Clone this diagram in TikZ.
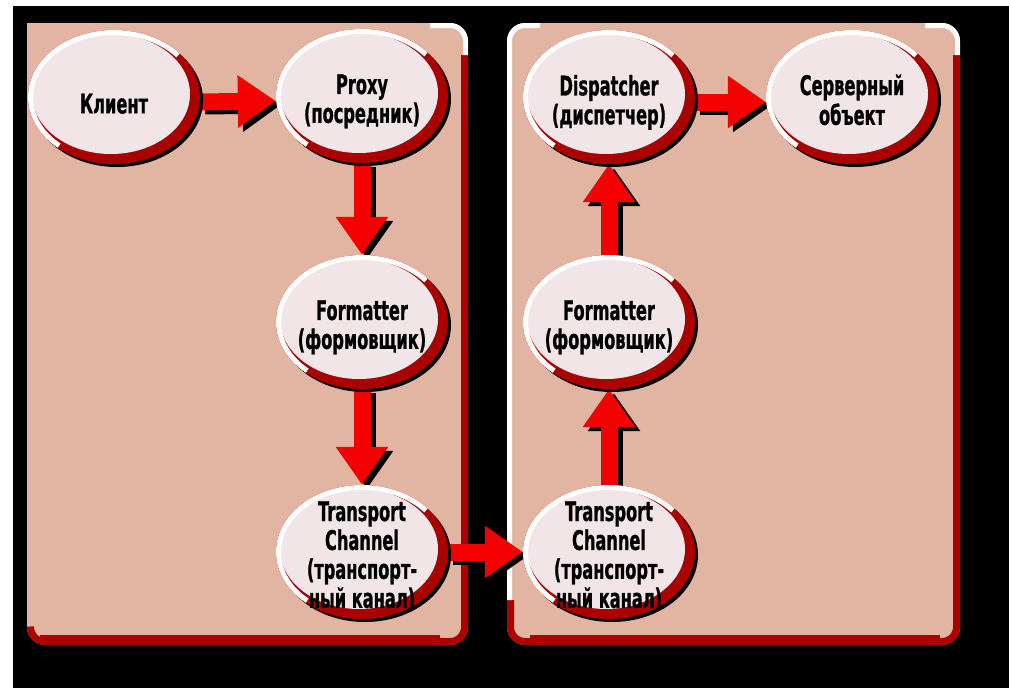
\documentclass[tikz,border=0pt]{standalone}
\usepackage{fontspec}
\newfontfamily\lblfont{DejaVu Sans}[FakeStretch=0.6,FakeBold=0.8]
\usetikzlibrary{arrows.meta,shapes.geometric}

\definecolor{panelbg}{RGB}{226,181,162}
\definecolor{edgered}{RGB}{175,0,0}
\definecolor{ringred}{RGB}{170,0,0}
\definecolor{arrowred}{RGB}{245,0,0}
\definecolor{bubblebg}{RGB}{241,229,231}

\pgfdeclarelayer{panels}
\pgfdeclarelayer{links}
\pgfsetlayers{panels,links,main}

\tikzset{
  bubble/.style={ellipse, minimum width=172pt, minimum height=134pt, inner sep=0pt,
    font=\lblfont\bfseries\fontsize{27pt}{28pt}\selectfont},
  flow/.style={draw=arrowred, line width=17pt, -{Triangle[length=38pt,width=50pt]}},
  flowshadow/.style={draw=black, line width=17pt, -{Triangle[length=38pt,width=50pt]},
    transform canvas={shift={(5pt,-4pt)}}},
}

% bevelled bubble: shadow, dark red rim, light face, white highlight, then the named node
\newcommand\bubblenode[4]{%
  \fill[black] (#2+3,#3-3) ellipse [x radius=86pt, y radius=67pt];
  \fill[ringred] (#2,#3) ellipse [x radius=86pt, y radius=67pt];
  \fill[bubblebg] (#2-3,#3+3) ellipse [x radius=79pt, y radius=60pt];
  \draw[white, line width=5pt] (#2,#3) ++(40:83.5pt and 64.5pt)
    arc [start angle=40, end angle=229, x radius=83.5pt, y radius=64.5pt];
  \node[bubble] (#1) at (#2,#3)
    {\makebox[0pt]{\smash{\raisebox{-13pt}{\begin{tabular}{@{}c@{}}#4\end{tabular}}}}};
}

\begin{document}
\begin{tikzpicture}[x=1pt,y=1pt]
\useasboundingbox (0,0) rectangle (1009,-688);

\begin{pgfonlayer}{panels}
  \fill[white] (0,0) rectangle (1009,-688);
  \fill[black] (13,-6) rectangle (1009,-688);

  % client side panel
  \fill[panelbg] (27,-23) rectangle (60,-60);
  \begin{scope}
    \clip[rounded corners=18pt] (27,-23) rectangle (468,-645);
    \fill[panelbg] (27,-23) rectangle (468,-645);
    \draw[edgered, line width=14pt, rounded corners=18pt]
      (468,-55) -- (468,-645) -- (27,-645) -- (27,-630);
    \draw[edgered, line width=20pt] (40,-645) -- (440,-645);
    \draw[white, line width=10pt, rounded corners=18pt]
      (430,-23) -- (468,-23) -- (468,-55);
  \end{scope}

  % server side panel
  \begin{scope}
    \clip[rounded corners=18pt] (507,-23) rectangle (960,-645);
    \fill[panelbg] (507,-23) rectangle (960,-645);
    \draw[edgered, line width=14pt, rounded corners=18pt]
      (960,-55) -- (960,-645) -- (507,-645) -- (507,-600);
    \draw[edgered, line width=20pt] (530,-645) -- (940,-645);
    \draw[white, line width=10pt, rounded corners=18pt]
      (507,-600) -- (507,-23) -- (540,-23);
    \draw[white, line width=10pt, rounded corners=18pt]
      (925,-23) -- (960,-23) -- (960,-55);
  \end{scope}
\end{pgfonlayer}

% bubbles
\bubblenode{kl}{114}{-97}{\raisebox{-4pt}{Клиент}}
\bubblenode{px}{362}{-96}{Proxy\\(посредник)}
\bubblenode{fl}{362}{-322}{Formatter\\(формовщик)}
\bubblenode{tl}{362}{-552}{Transport\\Channel\\(транспорт-\\ный канал)}
\bubblenode{dp}{609}{-97}{Dispatcher\\(диспетчер)}
\bubblenode{so}{852}{-97}{Серверный\\объект}
\bubblenode{fr}{609}{-322}{Formatter\\(формовщик)}
\bubblenode{tr}{609}{-552}{Transport\\Channel\\(транспорт-\\ный канал)}

% call flow
\begin{pgfonlayer}{links}
  \draw[flowshadow] ([yshift=-5pt]kl.east) -- ([yshift=-5pt]px.west);
  \draw[flow]       ([yshift=-5pt]kl.east) -- ([yshift=-5pt]px.west);
  \draw[flowshadow] (px.south) -- (fl.north);
  \draw[flow]       (px.south) -- (fl.north);
  \draw[flowshadow] (fl.south) -- (tl.north);
  \draw[flow]       (fl.south) -- (tl.north);
  \draw[flowshadow] (tl.east) -- (tr.west);
  \draw[flow]       (tl.east) -- (tr.west);
  \draw[flowshadow] (tr.north) -- (fr.south);
  \draw[flow]       (tr.north) -- (fr.south);
  \draw[flowshadow] (fr.north) -- (dp.south);
  \draw[flow]       (fr.north) -- (dp.south);
  \draw[flowshadow] ([yshift=-5pt]dp.east) -- ([yshift=-5pt]so.west);
  \draw[flow]       ([yshift=-5pt]dp.east) -- ([yshift=-5pt]so.west);
\end{pgfonlayer}
\end{tikzpicture}
\end{document}
